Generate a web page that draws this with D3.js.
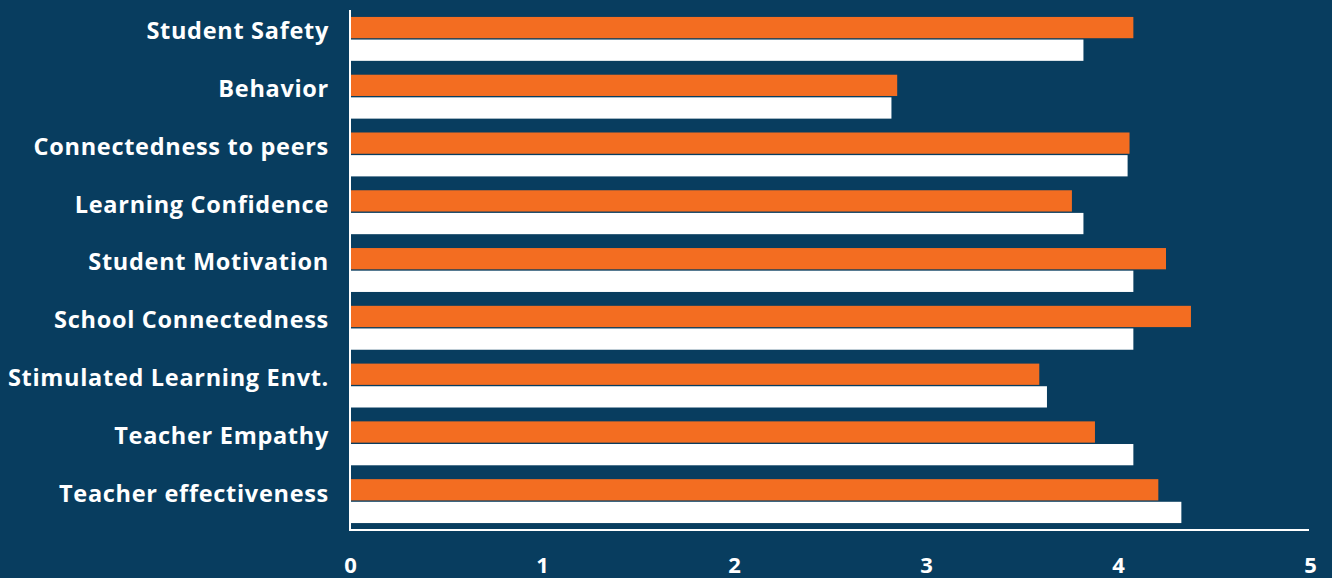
<!DOCTYPE html>
<html>
<head>
<meta charset="utf-8">
<script src="https://cdn.jsdelivr.net/npm/d3@7"></script>
<style>
  html, body { margin: 0; padding: 0; background: #083d5f; }
  svg { display: block; }
  text { font-family: "Open Sans", Lato, sans-serif; font-weight: 700; fill: #ffffff; }
</style>
</head>
<body>
<svg id="chart" width="1332" height="578"></svg>
<script>
// Survey domains, top to bottom
const categories = [
  "Student Safety",
  "Behavior",
  "Connectedness to peers",
  "Learning Confidence",
  "Student Motivation",
  "School Connectedness",
  "Stimulated Learning Envt.",
  "Teacher Empathy",
  "Teacher effectiveness"
];

// Average score per domain, first series (orange)
const seriesA = [4.08, 2.85, 4.06, 3.76, 4.25, 4.38, 3.59, 3.88, 4.21];
// Average score per domain, second series (white)
const seriesB = [3.82, 2.82, 4.05, 3.82, 4.08, 4.08, 3.63, 4.08, 4.33];

const xTicks = [0, 1, 2, 3, 4, 5];

const seriesKeys = ["a", "b"];
const seriesColors = { a: "#f36d21", b: "#ffffff" };

const rows = categories.map((c, i) => ({ category: c, a: seriesA[i], b: seriesB[i] }));

const width = 1332, height = 578;
const margin = { top: 10, right: 22, bottom: 48, left: 350 };

const svg = d3.select("#chart");

const x = d3.scaleLinear()
  .domain([0, 5])
  .range([margin.left, width - margin.right]);

const y = d3.scaleBand()
  .domain(categories)
  .range([margin.top, height - margin.bottom])
  .paddingInner(0.24)
  .paddingOuter(0.12);

const ySub = d3.scaleBand()
  .domain(seriesKeys)
  .range([0, y.bandwidth()])
  .paddingInner(0.06);

// Bars
const groups = svg.append("g")
  .selectAll("g")
  .data(rows)
  .join("g")
  .attr("transform", d => `translate(0,${y(d.category)})`);

groups.selectAll("rect")
  .data(d => seriesKeys.map(k => ({ key: k, value: d[k] })))
  .join("rect")
  .attr("x", x(0))
  .attr("y", d => ySub(d.key))
  .attr("width", d => x(d.value) - x(0))
  .attr("height", ySub.bandwidth())
  .attr("fill", d => seriesColors[d.key]);

// Category labels
svg.append("g")
  .selectAll("text")
  .data(categories)
  .join("text")
  .attr("x", margin.left - 21)
  .attr("y", d => y(d) + y.step() / 2 - 6.5)
  .attr("text-anchor", "end")
  .style("font-size", "23.5px")
  .style("letter-spacing", "0.7px")
  .text(d => d);

// Axis lines
svg.append("line")
  .attr("x1", x(0)).attr("x2", x(0))
  .attr("y1", margin.top).attr("y2", height - margin.bottom + 1)
  .attr("stroke", "#ffffff").attr("stroke-width", 2);

svg.append("line")
  .attr("x1", x(0) - 1).attr("x2", x(5) - 1)
  .attr("y1", height - margin.bottom).attr("y2", height - margin.bottom)
  .attr("stroke", "#ffffff").attr("stroke-width", 2);

// Bottom axis tick labels
const xAxis = d3.axisBottom(x).tickValues(xTicks).tickFormat(d3.format("d")).tickSize(0).tickPadding(0);
const gx = svg.append("g")
  .attr("transform", `translate(0,${height - margin.bottom})`)
  .call(xAxis);
gx.select(".domain").remove();
gx.selectAll("text")
  .attr("dy", null)
  .attr("y", 43)
  .style("font-family", "'Open Sans', sans-serif")
  .style("font-weight", 700)
  .style("font-size", "22px")
  .attr("fill", "#ffffff");
</script>
</body>
</html>
